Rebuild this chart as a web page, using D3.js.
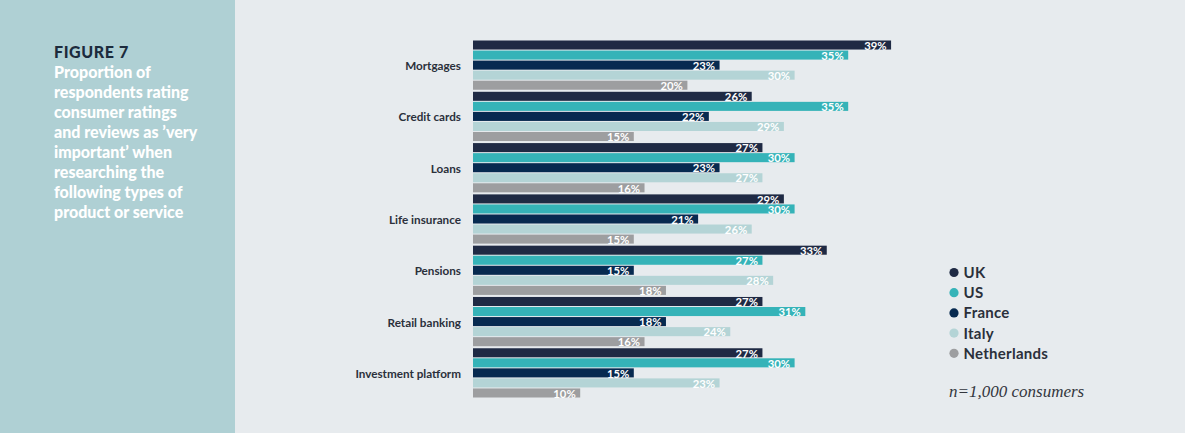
<!DOCTYPE html>
<html>
<head>
<meta charset="utf-8">
<script src="https://cdn.jsdelivr.net/npm/d3@7"></script>
<style>
  html, body { margin: 0; padding: 0; background: #e7ebee; }
  svg { display: block; }
</style>
</head>
<body>
<svg id="chart" width="1185" height="433"></svg>
<script>
const categories = ["Mortgages", "Credit cards", "Loans", "Life insurance", "Pensions", "Retail banking", "Investment platform"];
const seriesNames = ["UK", "US", "France", "Italy", "Netherlands"];
const ukValues          = [39, 26, 27, 29, 33, 27, 27];
const usValues          = [35, 35, 30, 30, 27, 31, 30];
const franceValues      = [23, 22, 23, 21, 15, 18, 15];
const italyValues       = [30, 29, 27, 26, 28, 24, 23];
const netherlandsValues = [20, 15, 16, 15, 18, 16, 10];
const seriesColors = ["#1f2a44", "#35b3b8", "#072a50", "#b4d4d6", "#9d9ea0"];
const titleLines = ["Proportion of", "respondents rating", "consumer ratings", "and reviews as \u2019very", "important\u2019 when", "researching the", "following types of", "product or service"];
const figureLabel = "FIGURE 7";
const noteText = "n=1,000 consumers";

const seriesValues = [ukValues, usValues, franceValues, italyValues, netherlandsValues];

const svg = d3.select("#chart");
const W = 1185, H = 433;

svg.append("rect").attr("x", 0).attr("y", 0).attr("width", W).attr("height", H).attr("fill", "#e7ebee");
svg.append("rect").attr("x", 0).attr("y", 0).attr("width", 235).attr("height", H).attr("fill", "#afd0d4");

// Title block
svg.append("text")
  .attr("x", 54).attr("y", 58)
  .attr("font-family", "Lato, 'DejaVu Sans', sans-serif")
  .attr("font-weight", 900)
  .attr("font-size", 16)
  .attr("letter-spacing", 0.6)
  .attr("fill", "#1c2b3d")
  .text(figureLabel);

svg.append("g").selectAll("text").data(titleLines).join("text")
  .attr("x", 54)
  .attr("y", (d, i) => 77.5 + i * 20)
  .attr("font-family", "Lato, 'DejaVu Sans', sans-serif")
  .attr("font-weight", 900)
  .attr("font-size", 16)
  .attr("fill", "#ffffff")
  .text(d => d);

// Scales
const x = d3.scaleLinear().domain([0, 40]).range([473, 473 + 40 * 10.72]);
const y = d3.scaleBand().domain(categories).range([40.5, 397.5]).paddingInner(0.04).paddingOuter(0);
const ys = d3.scaleBand().domain(seriesNames).range([0, y.bandwidth()]).paddingInner(0.1).paddingOuter(0);
const color = d3.scaleOrdinal().domain(seriesNames).range(seriesColors);

const rows = [];
categories.forEach((c, ci) => {
  seriesNames.forEach((s, si) => {
    rows.push({ cat: c, series: s, value: seriesValues[si][ci] });
  });
});

const bars = svg.append("g");
bars.selectAll("rect").data(rows).join("rect")
  .attr("x", x(0))
  .attr("y", d => y(d.cat) + ys(d.series))
  .attr("width", d => x(d.value) - x(0))
  .attr("height", ys.bandwidth())
  .attr("fill", d => color(d.series));

bars.selectAll("text").data(rows).join("text")
  .attr("x", d => x(d.value) - 4.5)
  .attr("y", d => y(d.cat) + ys(d.series) + ys.bandwidth() + 0.2)
  .attr("text-anchor", "end")
  .attr("font-family", "Lato, 'DejaVu Sans', sans-serif")
  .attr("font-weight", 700)
  .attr("font-size", 11.3)
  .attr("fill", "#ffffff")
  .text(d => d.value + "%");

// Category axis
const yAxis = d3.axisLeft(y).tickSize(0).tickPadding(0);
const axisG = svg.append("g").attr("transform", `translate(461,0)`).call(yAxis);
axisG.select(".domain").remove();
axisG.selectAll("text")
  .attr("font-family", "Lato, 'DejaVu Sans', sans-serif")
  .attr("font-weight", 700)
  .attr("font-size", 11.7)
  .attr("fill", "#2b303b")
  .attr("dy", "0.42em");

// Legend
const legend = svg.append("g");
const lg = legend.selectAll("g").data(seriesNames).join("g")
  .attr("transform", (d, i) => `translate(954, ${272.5 + i * 20.2})`);
lg.append("circle").attr("r", 4.6).attr("fill", d => color(d));
lg.append("text")
  .attr("x", 9.5).attr("y", 0).attr("dy", "0.36em")
  .attr("font-family", "Lato, 'DejaVu Sans', sans-serif")
  .attr("font-weight", 700)
  .attr("font-size", 15)
  .attr("letter-spacing", 0.25)
  .attr("fill", "#2b303b")
  .text(d => d);

svg.append("text")
  .attr("x", 949).attr("y", 397)
  .attr("font-family", "'Liberation Serif', 'DejaVu Serif', serif")
  .attr("font-style", "italic")
  .attr("font-size", 17)
  .attr("fill", "#33363d")
  .text(noteText);
</script>
</body>
</html>
